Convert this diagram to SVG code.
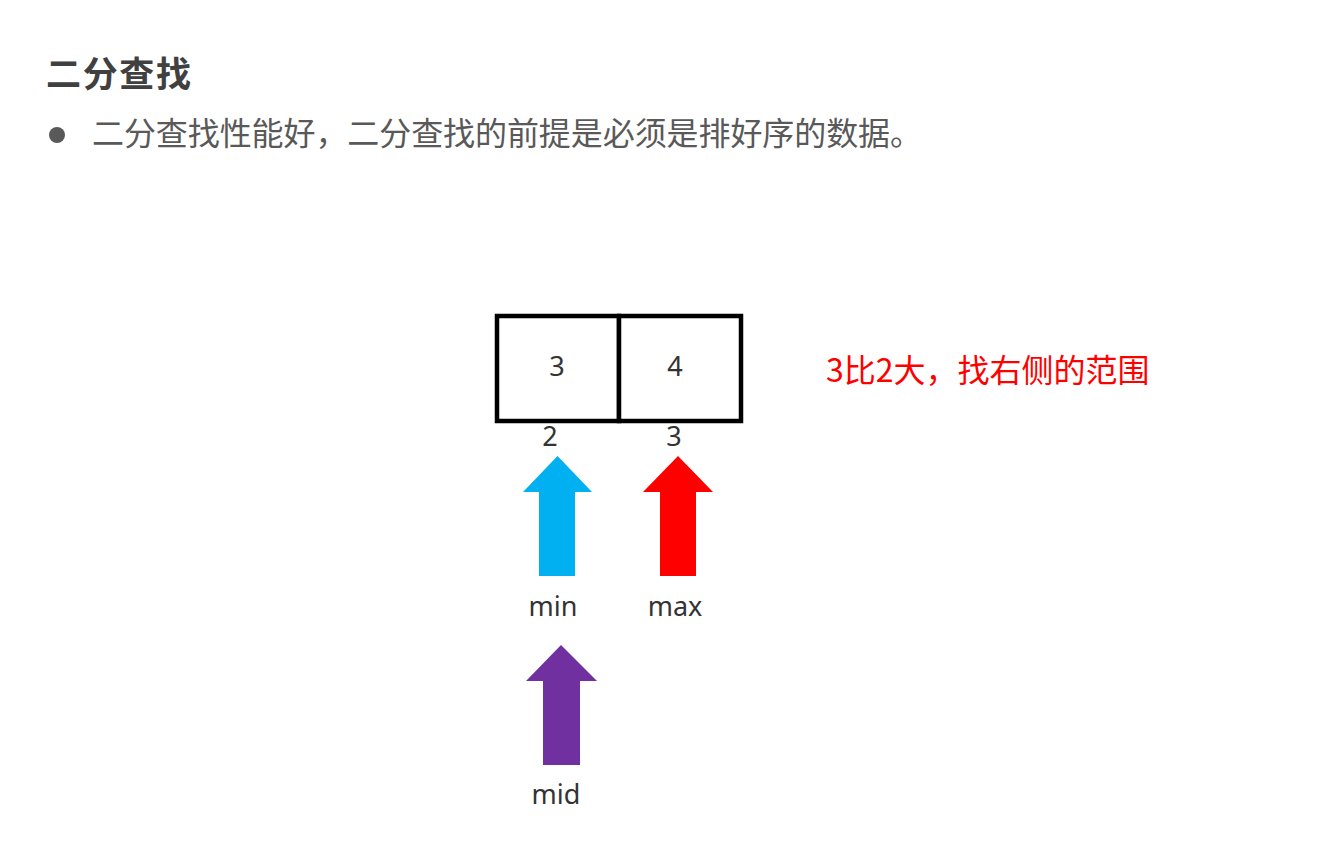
<svg xmlns="http://www.w3.org/2000/svg" width="1343" height="865" viewBox="0 0 1343 865">
<style>
.cjk{font-family:"Noto Sans CJK SC","Noto Sans",sans-serif;}
.lbl{font-family:"Noto Sans","Noto Sans CJK SC",sans-serif;fill:#333;font-size:27px;text-anchor:middle;}
.cell{fill:#fff;stroke:#000;stroke-width:4.5;}
</style>
<rect width="1343" height="865" fill="#fff"/>
<g id="title">
<text class="cjk" x="46" y="87" font-size="35" font-weight="bold" fill="#404040" textLength="145" lengthAdjust="spacing">二分查找</text>
</g>
<g id="bullet">
<circle cx="57" cy="135" r="8" fill="#595959"/>
<text class="cjk" x="92" y="145" font-size="32" fill="#595959" textLength="830" lengthAdjust="spacing">二分查找性能好，二分查找的前提是必须是排好序的数据。</text>
</g>
<g id="array">
<rect class="cell" x="497" y="316" width="122" height="105"/>
<rect class="cell" x="619" y="316" width="122" height="105"/>
<text class="lbl" x="557" y="376" font-size="28">3</text>
<text class="lbl" x="675" y="376" font-size="28">4</text>
</g>
<g id="indices">
<text class="lbl" x="550" y="446" font-size="28">2</text>
<text class="lbl" x="674" y="446" font-size="28">3</text>
</g>
<g id="connectors">
<g id="arrow-min">
<polygon points="557.5,456 592,492 575,492 575,576 539,576 539,492 523,492" fill="#00B0F0"/>
</g>
<g id="arrow-max">
<polygon points="678,456 713,492 696,492 696,576 660,576 660,492 643,492" fill="#FF0000"/>
</g>
<g id="arrow-mid">
<polygon points="561,645 597,681 580,681 580,765 543,765 543,681 526,681" fill="#7030A0"/>
</g>
</g>
<g id="label-min"><text class="lbl" x="553" y="616">min</text></g>
<g id="label-max"><text class="lbl" x="675" y="616">max</text></g>
<g id="label-mid"><text class="lbl" x="556" y="804">mid</text></g>
<g id="note">
<text class="cjk" x="826" y="382" font-size="32" fill="#FF0000">3比2大，找右侧的范围</text>
</g>
</svg>
